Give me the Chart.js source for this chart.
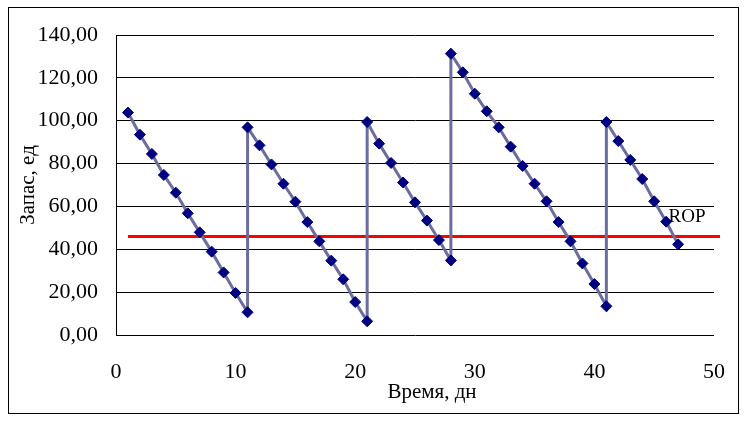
<!DOCTYPE html>
<html>
<head>
<meta charset="utf-8">
<script src="https://cdn.jsdelivr.net/npm/chart.js@4/dist/chart.umd.min.js"></script>
<style>
  html, body { margin: 0; padding: 0; background: #fff; }
  #wrap { width: 747px; height: 421px; }
</style>
</head>
<body>
<div id="wrap"><canvas id="myChart" width="747" height="421"></canvas></div>
<script>
// дни (повтор дня = пополнение запаса)
const days = [1,2,3,4,5,6,7,8,9,10,11,
              11,12,13,14,15,16,17,18,19,20,21,
              21,22,23,24,25,26,27,28,
              28,29,30,31,32,33,34,35,36,37,38,39,40,41,
              41,42,43,44,45,46,47];
// запас, ед
const stock = [103.8,93.5,84.5,74.7,66.4,56.8,47.9,38.9,29.2,19.6,10.6,
               96.9,88.5,79.6,70.6,62.2,52.7,43.7,34.7,26.0,15.4,6.4,
               99.4,89.3,80.3,71.2,61.9,53.4,44.3,34.8,
               131.3,122.6,112.6,104.4,96.9,87.9,78.9,70.6,62.4,52.7,43.7,33.4,23.8,13.4,
               99.4,90.5,81.7,72.8,62.4,52.9,42.3];
// точка заказа
const ropValue = 46;
const ropDays = [1, 50.5];
const ropLabel = 'ROP';
const ropLabelPos = { x: 46.2, y: 55 };

const yTicks = { min: 0, max: 140, step: 20 };
const xTicks = { min: 0, max: 50, step: 10 };
const xTitle = 'Время, дн';
const yTitle = 'Запас, ед';

const serif = '"Liberation Serif", "Times New Roman", serif';

const extras = {
  id: 'extras',
  afterDraw(chart) {
    const ctx = chart.ctx;
    const area = chart.chartArea;
    ctx.save();
    // рамка
    ctx.strokeStyle = '#000';
    ctx.lineWidth = 1;
    ctx.strokeRect(8.5, 7.5, 730, 406);
    ctx.fillStyle = '#000';
    // подпись ROP
    ctx.font = '19px ' + serif;
    ctx.textAlign = 'left';
    ctx.textBaseline = 'middle';
    ctx.fillText(ropLabel, chart.scales.x.getPixelForValue(ropLabelPos.x), chart.scales.y.getPixelForValue(ropLabelPos.y));
    // названия осей
    ctx.font = '21px ' + serif;
    ctx.textAlign = 'center';
    ctx.fillText(xTitle, 432, area.bottom + 57);
    ctx.translate(28, (area.top + area.bottom) / 2);
    ctx.rotate(-Math.PI / 2);
    ctx.fillText(yTitle, 0, 0);
    ctx.restore();
  }
};

const ctx = document.getElementById('myChart');
new Chart(ctx, {
  type: 'scatter',
  data: {
    datasets: [{
      data: days.map((d, i) => ({ x: d, y: stock[i] })),
      showLine: true,
      borderColor: '#6B6D9E',
      borderWidth: 3,
      pointStyle: 'rectRot',
      pointRadius: 5.5,
      pointBackgroundColor: '#000080',
      pointBorderColor: '#000080',
      pointBorderWidth: 1
    }, {
      data: ropDays.map(d => ({ x: d, y: ropValue })),
      showLine: true,
      borderColor: '#FF0000',
      borderWidth: 3,
      pointRadius: 0,
      clip: false
    }]
  },
  options: {
    responsive: false,
    animation: false,
    layout: { padding: { left: 0, top: 35, right: 33, bottom: 0 } },
    plugins: { legend: { display: false }, tooltip: { enabled: false } },
    scales: {
      x: {
        type: 'linear',
        min: xTicks.min, max: xTicks.max,
        grid: { display: false, drawTicks: false },
        border: { display: false },
        ticks: { stepSize: xTicks.step, color: '#000', padding: 24, font: { family: serif, size: 22 }, maxRotation: 0 },
        afterFit(scale) { scale.height = 86; scale.paddingRight = 0; }
      },
      y: {
        min: yTicks.min, max: yTicks.max,
        grid: { color: '#000', lineWidth: 1, drawTicks: false },
        border: { display: true, color: '#000', width: 1 },
        ticks: {
          stepSize: yTicks.step, color: '#000', padding: 18,
          font: { family: serif, size: 22 },
          callback: v => v.toFixed(2).replace('.', ',')
        },
        afterFit(scale) { scale.width = 116; }
      }
    }
  },
  plugins: [extras]
});
</script>
</body>
</html>
